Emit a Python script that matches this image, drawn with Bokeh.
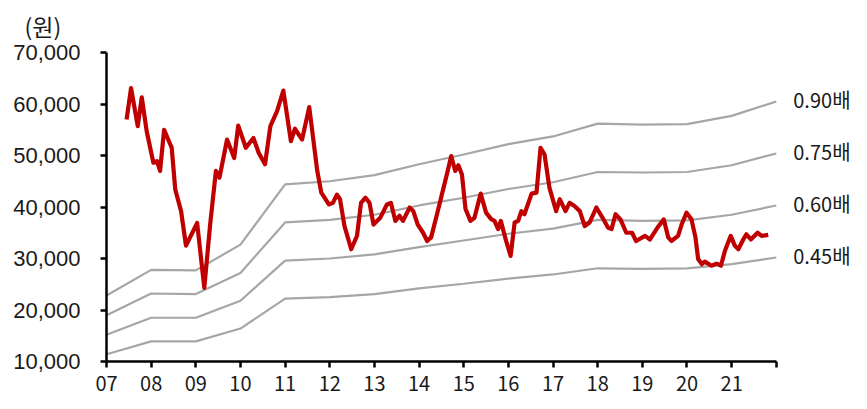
from bokeh.plotting import figure
from bokeh.models import Range1d, FixedTicker, NumeralTickFormatter, Label
from bokeh.embed import file_html
from bokeh.resources import INLINE

# ---- data ----
band_years = [2007, 2008, 2009, 2010, 2011, 2012, 2013, 2014, 2015, 2016, 2017, 2018, 2019, 2020, 2021, 2022]
band_090 = [22800, 27800, 27700, 32700, 44400, 45000, 46200, 48300, 50200, 52200, 53700, 56200, 56000, 56100, 57700, 60500]
band_075 = [19000, 23200, 23100, 27200, 37000, 37500, 38500, 40300, 41800, 43500, 44800, 46800, 46700, 46800, 48100, 50400]
band_060 = [15200, 18500, 18500, 21800, 29600, 30000, 30800, 32200, 33500, 34800, 35800, 37500, 37300, 37400, 38500, 40300]
band_045 = [11400, 13900, 13900, 16400, 22200, 22500, 23100, 24200, 25100, 26100, 26900, 28100, 28000, 28100, 28900, 30200]
band_labels = ["0.90배", "0.75배", "0.60배", "0.45배"]

price_t = [2007.45, 2007.55, 2007.70, 2007.79, 2007.90, 2008.05, 2008.13, 2008.20, 2008.29, 2008.46,
           2008.54, 2008.67, 2008.78, 2009.03, 2009.19, 2009.32, 2009.45, 2009.53, 2009.70, 2009.86,
           2009.95, 2010.12, 2010.29, 2010.41, 2010.55, 2010.67, 2010.82, 2010.96, 2011.13, 2011.22,
           2011.38, 2011.54, 2011.72, 2011.81, 2011.98, 2012.07, 2012.16, 2012.23, 2012.33, 2012.48,
           2012.61, 2012.70, 2012.80, 2012.89, 2012.98, 2013.13, 2013.28, 2013.37, 2013.47, 2013.56,
           2013.64, 2013.79, 2013.87, 2013.97, 2014.09, 2014.18, 2014.27, 2014.41, 2014.53, 2014.63,
           2014.72, 2014.81, 2014.88, 2014.96, 2015.04, 2015.15, 2015.24, 2015.38, 2015.50, 2015.62,
           2015.69, 2015.77, 2015.83, 2015.95, 2016.05, 2016.14, 2016.22, 2016.29, 2016.36, 2016.52,
           2016.63, 2016.72, 2016.81, 2016.92, 2017.07, 2017.15, 2017.28, 2017.37, 2017.48, 2017.60,
           2017.71, 2017.82, 2017.97, 2018.11, 2018.23, 2018.31, 2018.40, 2018.51, 2018.64, 2018.77,
           2018.86, 2019.06, 2019.17, 2019.34, 2019.48, 2019.58, 2019.65, 2019.80, 2019.88, 2019.99,
           2020.10, 2020.19, 2020.25, 2020.33, 2020.40, 2020.55, 2020.66, 2020.76, 2020.85, 2020.98,
           2021.07, 2021.15, 2021.26, 2021.33, 2021.43, 2021.58, 2021.67, 2021.82]
price_v = [57000, 63100, 55700, 61300, 54700, 48600, 48900, 47000, 55000, 51500,
           43400, 39200, 32500, 36900, 24300, 36500, 47000, 45700, 53100, 49500,
           55800, 51500, 53400, 50500, 48300, 55700, 58600, 62600, 52800, 55200,
           53100, 59400, 47000, 42800, 40500, 40800, 42400, 41500, 36300, 31800,
           34400, 40800, 41800, 40800, 36600, 37900, 40500, 40800, 37300, 38300,
           37300, 39900, 39200, 36600, 35000, 33400, 34100, 38900, 43100, 46600,
           49900, 47000, 48100, 46300, 39600, 37300, 37900, 42600, 38900, 37600,
           37300, 35700, 37300, 33400, 30500, 37000, 37300, 39200, 38600, 42600,
           42800, 51500, 50200, 43700, 39200, 41500, 39200, 40800, 40200, 39200,
           36300, 37000, 39900, 37900, 36000, 35700, 38600, 37600, 35000, 35000,
           33400, 34400, 33700, 36000, 37600, 34100, 33400, 34400, 36600, 38900,
           37600, 34100, 29900, 28900, 29400, 28600, 29000, 28600, 31500, 34400,
           32500, 31800, 33700, 34700, 33700, 35000, 34400, 34600]

y_ticks = [10000, 20000, 30000, 40000, 50000, 60000, 70000]
x_ticks = list(range(2007, 2023))
x_tick_labels = ["07", "08", "09", "10", "11", "12", "13", "14", "15", "16", "17", "18", "19", "20", "21", ""]

# ---- figure ----
p = figure(width=866, height=400, output_backend="svg", toolbar_location=None,
           x_range=Range1d(2007, 2024.02), y_range=Range1d(10000, 70000),
           min_border_left=106, min_border_right=0, min_border_top=51, min_border_bottom=39)
p.outline_line_color = None
p.grid.visible = False
p.background_fill_color = "white"
p.border_fill_color = "white"

p.title.text = "(원)"
p.title.align = "left"
p.title.vertical_align = "top"
p.title.offset = -82
p.title.text_font = "Noto Sans CJK KR"
p.title.text_font_size = "23px"
p.title.text_font_style = "normal"
p.title.text_color = "#1a1a1a"
p.title.standoff = 16

band_color = "#A6A6A6"
for vals in [band_090, band_075, band_060, band_045]:
    p.line(band_years, vals, line_color=band_color, line_width=2.2)

p.line(price_t, price_v, line_color="#C00000", line_width=4.2, line_join="round")

for lab, vals in zip(band_labels, [band_090, band_075, band_060, band_045]):
    p.add_layout(Label(x=2022.38, y=vals[-1] + 400, text=lab, text_font="Noto Sans CJK KR",
                       text_font_size="20px", text_color="#1a1a1a", text_baseline="middle"))

# axes
for ax in [p.xaxis[0], p.yaxis[0]]:
    ax.axis_line_color = "black"
    ax.axis_line_width = 2.5
    ax.major_tick_line_color = "black"
    ax.major_tick_line_width = 2.5
    ax.major_tick_in = 0
    ax.major_tick_out = 6
    ax.minor_tick_line_color = None
    ax.major_label_text_color = "#1a1a1a"

p.xaxis.bounds = (2007, 2022)

p.yaxis.ticker = FixedTicker(ticks=y_ticks)
p.yaxis.formatter = NumeralTickFormatter(format="0,0")
p.yaxis.major_label_text_font = "Liberation Sans"
p.yaxis.major_label_text_font_size = "22px"
p.yaxis.major_label_standoff = 20

p.xaxis.ticker = FixedTicker(ticks=x_ticks)
p.xaxis.major_label_overrides = {t: l for t, l in zip(x_ticks, x_tick_labels)}
p.xaxis.major_label_text_font = "Noto Sans CJK KR"
p.xaxis.major_label_text_font_size = "20px"
p.xaxis.major_label_standoff = 8

open("out.html", "w").write(file_html(p, INLINE))
